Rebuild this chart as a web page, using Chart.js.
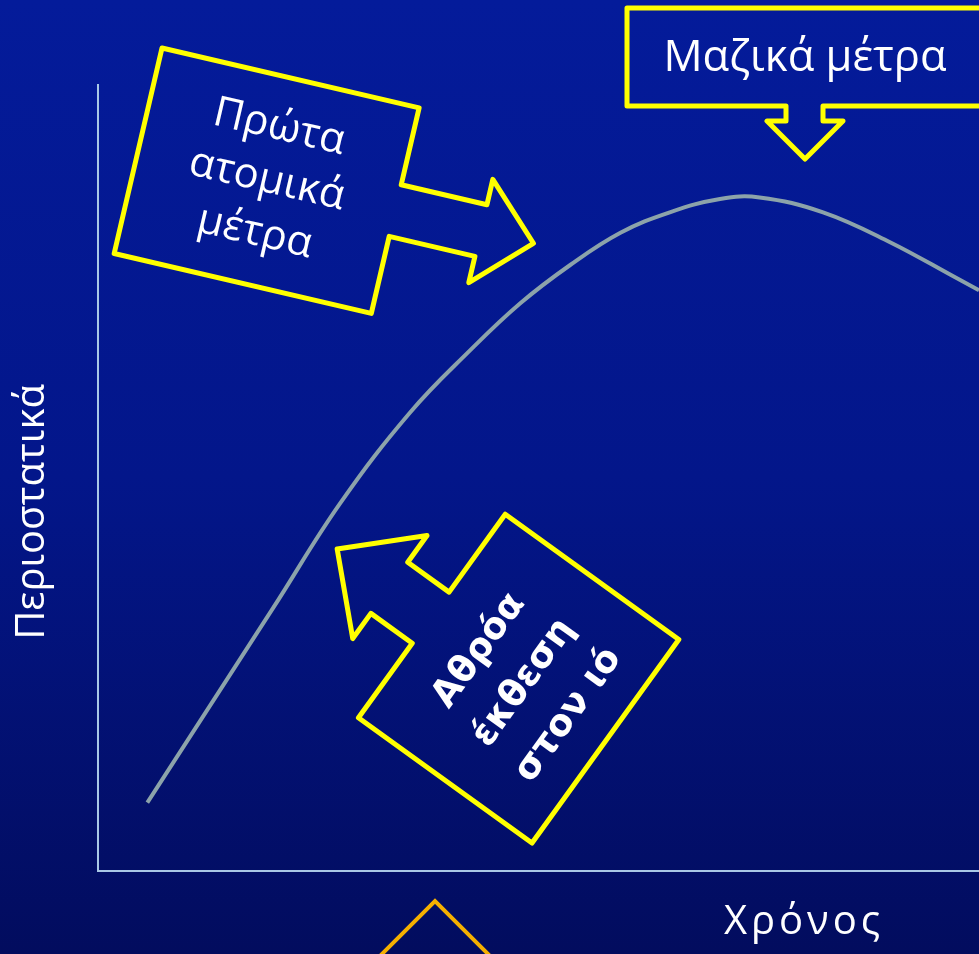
<!DOCTYPE html>
<html>
<head>
<meta charset="utf-8">
<script src="https://cdn.jsdelivr.net/npm/chart.js@4.4.1/dist/chart.umd.min.js"></script>
<style>
  html, body { margin: 0; padding: 0; }
  body {
    width: 979px; height: 954px; overflow: hidden;
    background: linear-gradient(#041b9a 0%, #03168a 50%, #020c5e 100%);
  }
  #wrap { position: relative; width: 979px; height: 954px; }
  canvas { display: block; }
</style>
</head>
<body>
<div id="wrap"><canvas id="grafico" width="979" height="954"></canvas></div>
<script>
// χρόνος (άξονας x, 0-100) και περιστατικά (άξονας y, 0-100), διαβασμένα από την καμπύλη
const xronos = [5.6, 19.9, 27.5, 35.4, 42.2, 47.9, 53.6, 59.3, 64.9, 70.6, 75.1, 82.3, 89.9, 97.5, 100];
const periostatika = [8.7, 33.5, 46.8, 58.3, 66.2, 72.2, 77.1, 81.2, 83.8, 85.5, 85.7, 83.8, 80, 75.4, 73.9];

const titloY = "Περιοστατικά";
const titloX = "Χρόνος";
const keimenoAtomika = ["Πρώτα", "ατομικά", "μέτρα"];
const keimenoMazika = ["Μαζικά μέτρα"];
const keimenoEkthesi = ["Αθρόα", "έκθεση", "στον ιό"];

const KITRINO = "#ffff00";
const LEUKO = "#ffffff";

// σχήμα: ορθογώνιο w x h με βέλος στη δεξιά πλευρά (τοπικές συντεταγμένες)
function diadromiVelous(ctx, s) {
  const a = s.w + s.stemLen;
  const mid = (s.head[0] + s.head[1]) / 2;
  ctx.beginPath();
  ctx.moveTo(0, 0);
  ctx.lineTo(s.w, 0);
  ctx.lineTo(s.w, s.stem[0]);
  ctx.lineTo(a, s.stem[0]);
  ctx.lineTo(a, s.head[0]);
  ctx.lineTo(a + s.headLen, mid);
  ctx.lineTo(a, s.head[1]);
  ctx.lineTo(a, s.stem[1]);
  ctx.lineTo(s.w, s.stem[1]);
  ctx.lineTo(s.w, s.h);
  ctx.lineTo(0, s.h);
  ctx.closePath();
}

const sxhmata = [
  { x: 162, y: 48, angle: 13.1, w: 264, h: 211, stem: [79, 132], stemLen: 88, head: [53, 159], headLen: 54 },
  { x: 990, y: 8, angle: 90, w: 98, h: 363, stem: [167, 204], stemLen: 15, head: [147, 223], headLen: 38 },
  { x: 532, y: 843, angle: -144.2, w: 214, h: 251, stem: [92, 155], stemLen: 51, head: [61, 188], headLen: 65 },
];

function grapseGrammes(ctx, lines, cx, cy, angle, step, font, spacing) {
  ctx.save();
  ctx.translate(cx, cy);
  ctx.rotate(angle * Math.PI / 180);
  ctx.font = font;
  if (spacing) ctx.letterSpacing = spacing + "px";
  ctx.fillStyle = LEUKO;
  ctx.textAlign = "center";
  ctx.textBaseline = "middle";
  const start = -(lines.length - 1) / 2 * step;
  lines.forEach((t, i) => ctx.fillText(t, (spacing || 0) / 2, start + i * step));
  ctx.restore();
}

const sxolia = {
  id: "sxolia",
  afterDraw(chart) {
    const ctx = chart.ctx;
    // κίτρινα βέλη
    sxhmata.forEach((s) => {
      ctx.save();
      ctx.translate(s.x, s.y);
      ctx.rotate(s.angle * Math.PI / 180);
      diadromiVelous(ctx, s);
      ctx.strokeStyle = KITRINO;
      ctx.lineWidth = 5;
      ctx.lineJoin = "round";
      ctx.stroke();
      ctx.restore();
    });

    // πορτοκαλί τρίγωνο κάτω
    ctx.save();
    ctx.beginPath();
    ctx.moveTo(378, 958);
    ctx.lineTo(435, 901);
    ctx.lineTo(492, 958);
    ctx.strokeStyle = "#f5b000";
    ctx.lineWidth = 4;
    ctx.stroke();
    ctx.restore();

    // κείμενα
    grapseGrammes(ctx, keimenoAtomika, 267, 180, 13.1, 54, '42px "Open Sans"');
    grapseGrammes(ctx, keimenoMazika, 805, 59, 0, 0, '43.5px "Open Sans"');
    grapseGrammes(ctx, keimenoEkthesi, 524, 683, -54.2, 55, 'bold 37px "DejaVu Sans"');
    grapseGrammes(ctx, [titloY], 33, 512, -90, 0, '40px "Open Sans"');
    grapseGrammes(ctx, [titloX], 802, 923, 0, 0, '40px "Open Sans"', 4);
  },
};

new Chart(document.getElementById("grafico"), {
  type: "line",
  data: {
    datasets: [
      {
        data: xronos.map((x, i) => ({ x: x, y: periostatika[i] })),
        borderColor: "#8ca3aa",
        borderWidth: 4,
        pointRadius: 0,
        tension: 0.4,
        fill: false,
      },
    ],
  },
  options: {
    responsive: false,
    animation: false,
    layout: { padding: { left: 90, top: 85, right: 0, bottom: 75 } },
    plugins: { legend: { display: false }, tooltip: { enabled: false } },
    scales: {
      x: {
        type: "linear",
        min: 0,
        max: 100,
        grid: { display: false },
        ticks: { display: false },
        border: { display: true, color: "#a9c8e6", width: 2 },
      },
      y: {
        min: 0,
        max: 100,
        grid: { display: false },
        ticks: { display: false },
        border: { display: true, color: "#a9c8e6", width: 2 },
      },
    },
  },
  plugins: [sxolia],
});
</script>
</body>
</html>
